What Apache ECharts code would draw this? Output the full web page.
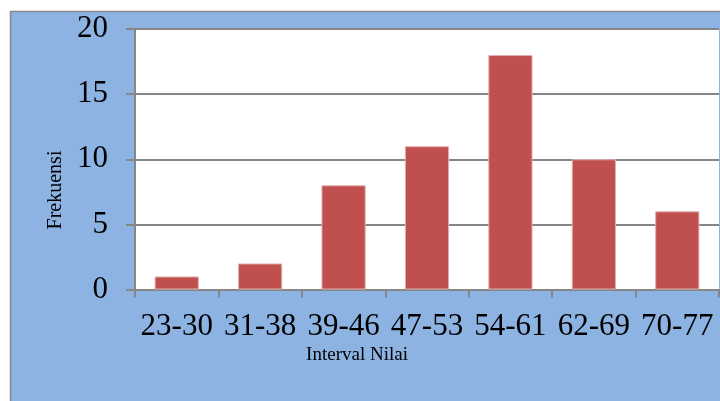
<!DOCTYPE html>
<html>
<head>
<meta charset="utf-8">
<script src="https://cdn.jsdelivr.net/npm/echarts@6/dist/echarts.min.js"></script>
<style>
html,body{margin:0;padding:0;background:#fff;}
#c{width:720px;height:401px;}
</style>
</head>
<body>
<div id="c"></div>
<script>
const categories = ['23-30','31-38','39-46','47-53','54-61','62-69','70-77'];
const frequencies = [1, 2, 8, 11, 18, 10, 6];
const yTicks = {min: 0, max: 20, interval: 5};
const xTitle = 'Interval Nilai';
const yTitle = 'Frekuensi';

const serif = '"Liberation Serif", "Times New Roman", serif';
const chart = echarts.init(document.getElementById('c'), null, {renderer: 'canvas'});
chart.setOption({
  backgroundColor: '#fff',
  animation: false,
  graphic: {
    elements: [
      {type: 'rect', z: -100, shape: {x: 10.5, y: 11.5, width: 800, height: 500},
       style: {fill: '#8DB3E2', stroke: '#8a8a8a', lineWidth: 1.5}},
      {type: 'text', x: 56, y: 190, rotation: Math.PI / 2, z: 10,
       style: {text: yTitle, font: '20px ' + serif, fill: '#000', align: 'center', verticalAlign: 'middle'}},
      {type: 'text', z: 10, x: 357, y: 355,
       style: {text: xTitle, font: '19px ' + serif, fill: '#000', align: 'center', verticalAlign: 'middle'}}
    ]
  },
  grid: {left: 135, right: 1, top: 29, bottom: 111.5, show: true, backgroundColor: '#fff', borderWidth: 0},
  xAxis: {
    type: 'category',
    data: categories,
    axisLine: {show: true, lineStyle: {color: '#868686', width: 2}},
    axisTick: {show: true, length: 8, lineStyle: {color: '#868686', width: 2}},
    axisLabel: {interval: 0, fontFamily: serif, fontSize: 31, color: '#000', margin: 22}
  },
  yAxis: {
    type: 'value',
    min: yTicks.min, max: yTicks.max, interval: yTicks.interval,
    axisLine: {show: true, lineStyle: {color: '#868686', width: 2}},
    axisTick: {show: true, length: 9, lineStyle: {color: '#868686', width: 2}},
    splitLine: {show: true, lineStyle: {color: '#868686', width: 2}},
    axisLabel: {fontFamily: serif, fontSize: 31, color: '#000', margin: 27}
  },
  series: [{
    type: 'bar',
    data: frequencies,
    barWidth: '53%',
    itemStyle: {color: '#C0504D', borderColor: '#E3AFAE', borderWidth: 1}
  }]
});
</script>
</body>
</html>
